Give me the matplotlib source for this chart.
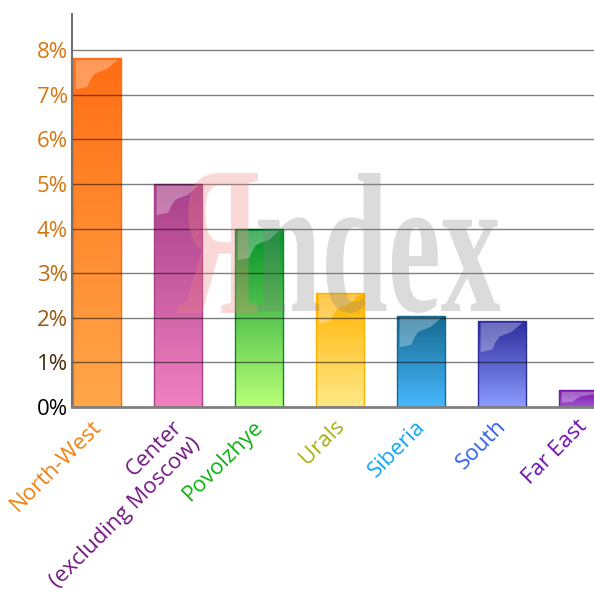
import numpy as np
import matplotlib
matplotlib.use("Agg")
import matplotlib.pyplot as plt
from matplotlib.colors import LinearSegmentedColormap
from matplotlib.patches import PathPatch, Polygon
from matplotlib.textpath import TextPath
from matplotlib.font_manager import FontProperties
from matplotlib.transforms import Affine2D, blended_transform_factory, offset_copy

# данные
regions = ["North-West", "Center\n(excluding Moscow)", "Povolzhye", "Urals",
           "Siberia", "South", "Far East"]
values = [7.82, 5.0, 3.99, 2.56, 2.04, 1.93, 0.38]
label_colors = ["#F08010", "#701A80", "#10B010", "#A8B010", "#10A8F0", "#3060F0", "#7010B0"]
top_colors = ["#FF6E14", "#A8408A", "#00902A", "#FFB300", "#14688E", "#2C2C9C", "#7A1AA8"]
bottom_colors = ["#FFA74B", "#F080C0", "#B8FF78", "#FFE888", "#48B8FF", "#8C9CFF", "#A050D0"]
yticks = [0, 1, 2, 3, 4, 5, 6, 7, 8]
ytick_colors = ["#000000", "#4A2A08", "#9A5510", "#C06A10", "#D9750F", "#D9750F",
                "#D9750F", "#D9750F", "#D9750F"]

plt.rcParams["font.family"] = ["Open Sans", "DejaVu Sans"]

fig = plt.figure(figsize=(5.94, 5.94), dpi=100)
ax = fig.add_axes([72 / 594, 1 - 407 / 594, 1 - 72 / 594, 393 / 594])

x = np.arange(len(values))
width = 0.6
bars = ax.bar(x, values, width=width, color="none", zorder=1)

# градиентная заливка + блик
for i, b in enumerate(bars):
    cmap = LinearSegmentedColormap.from_list("g", [bottom_colors[i], top_colors[i]])
    x0, w, h = b.get_x(), b.get_width(), b.get_height()
    grad = np.linspace(0, 1, 100).reshape(-1, 1)
    im = ax.imshow(grad, cmap=cmap, origin="lower", aspect="auto",
                   extent=[x0, x0 + w, 0, h], zorder=1)
    im.set_clip_path(b)
    b.set_edgecolor(top_colors[i])
    b.set_linewidth(1.0)
    b.set_zorder(1.5)
    # блик в левом верхнем углу
    hh = min(0.7, h * 0.75)
    m = 0.04
    pts = [(x0 + w * 0.06, h - m), (x0 + w * 0.92, h - m),
           (x0 + w * 0.70, h - hh * 0.35), (x0 + w * 0.45, h - hh * 0.5),
           (x0 + w * 0.36, h - hh * 0.7), (x0 + w * 0.30, h - hh * 0.92),
           (x0 + w * 0.06, h - hh)]
    ax.add_patch(Polygon(pts, closed=True, facecolor="white", alpha=0.3,
                         edgecolor="none", zorder=1.6))

ax.set_xlim(-0.309, 6.136)
ax.set_ylim(0, 8.81)

# сетка
for t in yticks[1:]:
    ax.axhline(t, color="black", alpha=0.5, lw=1.0, zorder=2)

# водяной знак Яndex
def put_word(s, box, color, alpha):
    fp = FontProperties(family="Liberation Serif", weight="bold")
    tp = TextPath((0, 0), s, size=1, prop=fp)
    ext = tp.get_extents()
    x1, y1, x2, y2 = box
    sx = (x2 - x1) / ext.width
    sy = (y2 - y1) / ext.height
    tr = (Affine2D().translate(-ext.x0, -ext.y0).scale(sx, sy)
          .translate(x1, 594 - y2).scale(1 / 594, 1 / 594))
    p = PathPatch(tr.transform_path(tp), facecolor=color, edgecolor="none",
                  alpha=alpha, transform=fig.transFigure, zorder=3)
    fig.add_artist(p)

put_word("Я", (178, 173, 258, 313), "#F08080", 0.3)
put_word("ndex", (258, 173, 500, 313), "#808080", 0.28)

# оси
for s in ["top", "right"]:
    ax.spines[s].set_visible(False)
ax.spines["left"].set_color("#707070")
ax.spines["left"].set_linewidth(1.5)
ax.spines["bottom"].set_color("#808080")
ax.spines["bottom"].set_linewidth(2)
ax.spines["left"].set_zorder(4)
ax.spines["bottom"].set_zorder(4)

ax.set_yticks(yticks)
ax.set_yticklabels([f"{t}%" for t in yticks], fontsize=16)
for lbl, c in zip(ax.get_yticklabels(), ytick_colors):
    lbl.set_color(c)
ax.tick_params(axis="y", length=0, pad=3)
ax.set_xticks([])

trans = blended_transform_factory(ax.transData, ax.transAxes)
trans = offset_copy(trans, fig=fig, x=-6, y=-9, units="dots")
for i, name in enumerate(regions):
    ax.text(x[i], 0, name, transform=trans, rotation=45, rotation_mode="anchor",
            ha="right", va="top", multialignment="right", fontsize=16,
            color=label_colors[i], clip_on=False, linespacing=1.25)

fig.savefig("out.png", dpi=100)
